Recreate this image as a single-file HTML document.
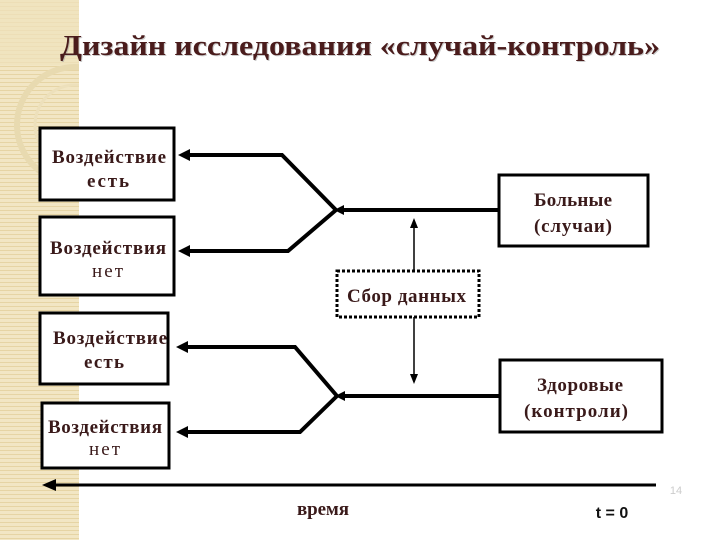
<!DOCTYPE html>
<html><head><meta charset="utf-8"><style>
html,body{margin:0;padding:0;background:#fff;}
svg{display:block;}
</style></head><body>
<svg width="720" height="540" viewBox="0 0 720 540" xmlns="http://www.w3.org/2000/svg">
<defs>
<pattern id="stripes" width="6" height="4" patternUnits="userSpaceOnUse">
<rect width="6" height="4" fill="#f2e6c4"/>
<rect y="2" width="6" height="1" fill="#e6d4a4"/>
</pattern>
</defs>
<rect x="0" y="0" width="79" height="540" fill="url(#stripes)"/>
<rect x="0" y="0" width="79" height="65" fill="#efe2bd" opacity="0.7"/>
<circle cx="75" cy="125" r="58" fill="none" stroke="#e8dab0" stroke-width="6"/>
<circle cx="75" cy="125" r="40" fill="none" stroke="#ede0bb" stroke-width="3"/>
<rect x="79" y="0" width="641" height="540" fill="#fff"/>

<text x="61" y="56" textLength="600" lengthAdjust="spacingAndGlyphs" font-family="Liberation Serif, serif" font-weight="bold" font-size="29" fill="#999" opacity="0.5">Дизайн исследования «случай-контроль»</text>
<text x="60" y="55" textLength="600" lengthAdjust="spacingAndGlyphs" font-family="Liberation Serif, serif" font-weight="bold" font-size="29" fill="#4a1c1c">Дизайн исследования «случай-контроль»</text>

<g fill="#fff" stroke="#000" stroke-width="3">
<rect x="40" y="128" width="134" height="72"/>
<rect x="40" y="217" width="134" height="78"/>
<rect x="40" y="313" width="128" height="71"/>
<rect x="42" y="403" width="127" height="65"/>
<rect x="499" y="175" width="149" height="71"/>
<rect x="500" y="360" width="162" height="72"/>
</g>
<rect x="337" y="271" width="142" height="46" fill="#fff" stroke="#000" stroke-width="3" stroke-dasharray="3,2"/>

<g fill="none" stroke="#000" stroke-width="4">
<polyline points="183,155 282,155 336,210" />
<polyline points="336,210 288,251 183,251"/>
<line x1="340" y1="210" x2="499" y2="210"/>
<polyline points="180,347 295,347 337,396"/>
<polyline points="337,396 300,432 180,432"/>
<line x1="341" y1="396" x2="500" y2="396"/>
<line x1="50" y1="485" x2="656" y2="485" stroke-width="3"/>
</g>
<path d="M178,155 L190,149 L190,161 z"/><path d="M178,251 L190,245 L190,257 z"/>
<path d="M176,347 L188,341 L188,353 z"/><path d="M176,432 L188,426 L188,438 z"/>
<path d="M334,210 L344,205 L344,215 z"/><path d="M335,396 L345,391 L345,401 z"/>
<path d="M42,485 L56,479 L56,491 z"/>
<g stroke="#000" stroke-width="1.5">
<line x1="414" y1="226" x2="414" y2="271"/>
<line x1="414" y1="317" x2="414" y2="376"/>
</g>
<path d="M414,218 L410,228 L418,228 z"/>
<path d="M414,384 L410,374 L418,374 z"/>

<g font-family="Liberation Serif, serif" font-weight="bold" font-size="19" fill="#3a1a1a" lengthAdjust="spacingAndGlyphs">
<text x="52" y="163" textLength="114">Воздействие</text>
<text x="87" y="187" textLength="42">есть</text>
<text x="50" y="254" textLength="116">Воздействия</text>
<text x="92" y="277" font-weight="normal" textLength="31">нет</text>
<text x="53" y="344" textLength="114">Воздействие</text>
<text x="84" y="368" textLength="40">есть</text>
<text x="48" y="433" textLength="114">Воздействия</text>
<text x="89" y="455" font-weight="normal" textLength="31">нет</text>
<text x="534" y="206" textLength="78">Больные</text>
<text x="534" y="232" textLength="78">(случаи)</text>
<text x="537" y="391" textLength="86">Здоровые</text>
<text x="524" y="417" textLength="104">(контроли)</text>
<text x="347" y="302" textLength="119">Сбор данных</text>
<text x="297" y="515" textLength="52">время</text>
</g>
<text x="612" y="518" text-anchor="middle" font-family="Liberation Sans, sans-serif" font-weight="bold" font-size="16" fill="#111">t = 0</text>
<text x="676" y="494" text-anchor="middle" font-family="Liberation Sans, sans-serif" font-size="11" fill="#ccc">14</text>
</svg>
</body></html>
